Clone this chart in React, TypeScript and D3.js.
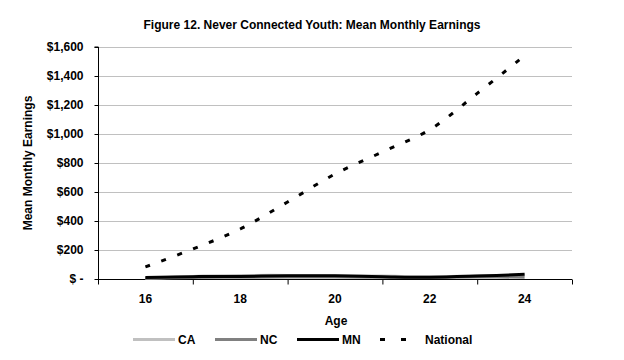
import React, { useEffect, useRef } from 'react';
import * as d3 from 'd3';

// ages on the x axis, and mean monthly earnings per series
const ages = [16, 17, 18, 19, 20, 21, 22, 23, 24];
const caValues = [5, 18, 24, 25, 22, 20, 15, 22, 28];
const ncValues = [4, 10, 12, 14, 14, 12, 10, 14, 12];
const mnValues = [10, 16, 18, 22, 22, 16, 12, 20, 32];
const nationalValues = [83, 207, 345, 531, 724, 876, 1030, 1280, 1540];

const yTicks = [0, 200, 400, 600, 800, 1000, 1200, 1400, 1600];
const xTickMarks = [15, 17, 19, 21, 23, 25];
const xLabels = [16, 18, 20, 22, 24];

const seriesList = [
  { name: 'CA', values: caValues, color: '#c0c0c0', width: 3, dash: null },
  { name: 'NC', values: ncValues, color: '#808080', width: 3, dash: null },
  { name: 'MN', values: mnValues, color: '#000000', width: 3, dash: null },
  { name: 'National', values: nationalValues, color: '#000000', width: 3, dash: '5,12' },
];

function Chart() {
  const svgRef = useRef(null);

  const W = 624;
  const H = 360;
  const margin = { top: 47, right: 52, bottom: 81, left: 98 };

  useEffect(() => {
    const svg = d3.select(svgRef.current);
    svg.selectAll('*').remove();

    const font = 'Arial, "Liberation Sans", sans-serif';

    const x = d3.scaleLinear().domain([15, 25]).range([margin.left, W - margin.right]);
    const y = d3.scaleLinear().domain([0, 1600]).range([H - margin.bottom, margin.top]);

    svg.append('rect').attr('width', W).attr('height', H).attr('fill', '#fff');

    // title
    svg.append('text')
      .attr('x', 312).attr('y', 29)
      .attr('text-anchor', 'middle')
      .style('font-family', font).style('font-weight', 'bold').style('font-size', '12px')
      .text('Figure 12. Never Connected Youth: Mean Monthly Earnings');

    // gridlines
    svg.append('g').selectAll('line')
      .data(yTicks.filter(d => d > 0))
      .enter().append('line')
      .attr('x1', margin.left).attr('x2', W - margin.right)
      .attr('y1', d => Math.round(y(d)) + 0.5).attr('y2', d => Math.round(y(d)) + 0.5)
      .attr('stroke', '#c0c0c0').attr('stroke-width', 1);

    // y axis
    const yAxis = svg.append('g')
      .attr('transform', `translate(${margin.left + 0.5},0)`)
      .call(d3.axisLeft(y).tickValues(yTicks).tickSize(4).tickPadding(11)
        .tickFormat(d => (d === 0 ? '$ -' : '$' + d3.format(',')(d))));
    yAxis.select('.domain').attr('stroke', '#000').attr('d', `M-4,${y(1600)}H0V${y(0)}`);
    yAxis.selectAll('text').style('font-family', font).style('font-weight', 'bold').style('font-size', '12px');

    // x axis
    const xAxis = svg.append('g')
      .attr('transform', `translate(0,${y(0) + 0.5})`)
      .call(d3.axisBottom(x).tickValues(xTickMarks).tickSize(5).tickFormat(() => ''));
    xAxis.select('.domain').attr('d', `M${x(15)},0H${x(25)}`);

    svg.append('g').selectAll('text')
      .data(xLabels)
      .enter().append('text')
      .attr('x', d => x(d)).attr('y', y(0) + 24)
      .attr('text-anchor', 'middle')
      .style('font-family', font).style('font-weight', 'bold').style('font-size', '12px')
      .text(d => d);

    // axis titles
    svg.append('text')
      .attr('x', 336).attr('y', 325)
      .attr('text-anchor', 'middle')
      .style('font-family', font).style('font-weight', 'bold').style('font-size', '12px')
      .text('Age');

    svg.append('text')
      .attr('transform', `translate(32,${(y(0) + y(1600)) / 2}) rotate(-90)`)
      .attr('text-anchor', 'middle')
      .style('font-family', font).style('font-weight', 'bold').style('font-size', '12px')
      .text('Mean Monthly Earnings');

    // lines
    const line = d3.line<number>()
      .x((d, i) => x(ages[i]))
      .y(d => y(d))
      .curve(d3.curveCatmullRom.alpha(0.5));

    seriesList.forEach(s => {
      svg.append('path')
        .attr('d', line(s.values))
        .attr('fill', 'none')
        .attr('stroke', s.color)
        .attr('stroke-width', s.width)
        .attr('stroke-dasharray', s.dash)
        .attr('stroke-linecap', 'butt');
    });

    // legend
    const legendX = [133, 215, 297, 380];
    const lg = svg.append('g');
    seriesList.forEach((s, i) => {
      lg.append('line')
        .attr('x1', legendX[i]).attr('x2', legendX[i] + 42)
        .attr('y1', 339.5).attr('y2', 339.5)
        .attr('stroke', s.color).attr('stroke-width', s.width)
        .attr('stroke-dasharray', s.dash ? '5,16' : null);
      lg.append('text')
        .attr('x', legendX[i] + 45).attr('y', 344)
        .style('font-family', font).style('font-weight', 'bold').style('font-size', '12px')
        .text(s.name);
    });
  }, []);

  return <svg ref={svgRef} width={W} height={H} style={{ display: 'block' }} />;
}

export default function App() {
  return (
    <div style={{ position: 'absolute', left: 0, top: 0 }}>
      <Chart />
    </div>
  );
}
